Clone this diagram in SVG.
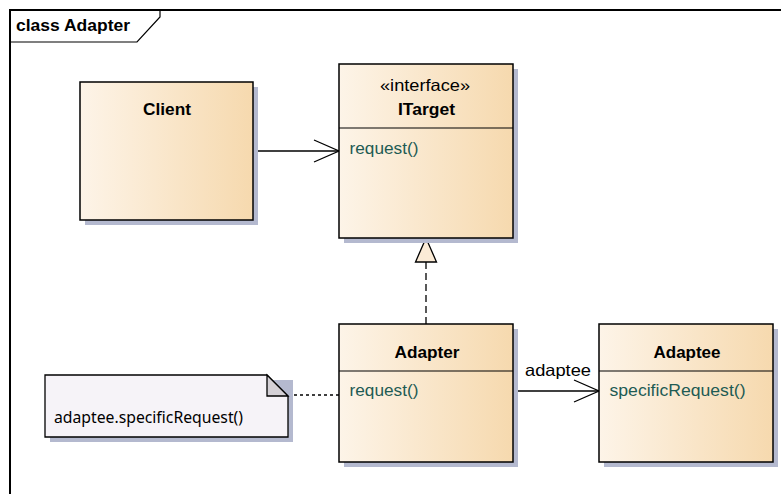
<svg xmlns="http://www.w3.org/2000/svg" width="781" height="494" viewBox="0 0 781 494">
  <defs>
    <linearGradient id="classFill" x1="0" y1="0" x2="1" y2="0">
      <stop offset="0" stop-color="#FDF4E8"/>
      <stop offset="1" stop-color="#F6D9AE"/>
    </linearGradient>
    <marker id="openArrow" markerWidth="28" markerHeight="26" refX="26" refY="12" orient="auto" markerUnits="userSpaceOnUse">
      <path d="M1,1 L26,12 L1,23" fill="none" stroke="#000" stroke-width="1.3"/>
    </marker>
  </defs>
  <style>
    .box { fill: url(#classFill); stroke: #000; stroke-width: 1.5; }
    .shadow { fill: #B4B9CF; }
    .div { stroke: #000; stroke-width: 1.2; }
    .name { font-family: "Liberation Sans", Arial, sans-serif; font-size: 16.5px; font-weight: bold; fill: #000; }
    .stereo { font-family: "Liberation Sans", Arial, sans-serif; font-size: 16.5px; fill: #000; }
    .op { font-family: "Liberation Sans", Arial, sans-serif; font-size: 16.5px; fill: #1E5B54; }
    .lbl { font-family: "Liberation Sans", Arial, sans-serif; font-size: 16.5px; fill: #000; }
    .conn { fill: none; stroke: #000; stroke-width: 1.3; }
  </style>

  <rect width="781" height="494" fill="#fff"/>

  <!-- diagram frame with title tab -->
  <g id="frame">
    <path d="M10,494 L10,10 L781,10" fill="none" stroke="#000" stroke-width="2"/>
    <path d="M10,42 L137,42 L160,17 L160,10" fill="none" stroke="#000" stroke-width="1.2"/>
    <text x="16" y="31" font-family="Liberation Sans, Arial, sans-serif" font-size="16.5px" font-weight="bold" textLength="114" lengthAdjust="spacingAndGlyphs">class Adapter</text>
  </g>

  <!-- connectors -->
  <g id="connectors">
    <line class="conn" x1="253" y1="151" x2="339" y2="151" marker-end="url(#openArrow)"/>
    <line class="conn" x1="426" y1="324" x2="426" y2="262" stroke-dasharray="7,4"/>
    <path d="M426,238 L415.5,262 L436.5,262 Z" fill="#FBEBD6" stroke="#000" stroke-width="1.3"/>
    <line class="conn" x1="513" y1="391" x2="599" y2="391" marker-end="url(#openArrow)"/>
    <text class="lbl" x="525" y="376" textLength="66" lengthAdjust="spacingAndGlyphs">adaptee</text>
    <line class="conn" x1="288" y1="395" x2="339" y2="395" stroke-dasharray="3,3"/>
  </g>

  <!-- Client -->
  <g id="client">
    <rect class="shadow" x="85" y="87" width="173" height="138"/>
    <rect class="box" x="80" y="82" width="173" height="138"/>
    <text class="name" x="143" y="115" textLength="48" lengthAdjust="spacingAndGlyphs">Client</text>
  </g>

  <!-- ITarget interface -->
  <g id="itarget">
    <rect class="shadow" x="344" y="69" width="174" height="174"/>
    <rect class="box" x="339" y="64" width="174" height="174"/>
    <text class="stereo" x="380" y="91" textLength="90" lengthAdjust="spacingAndGlyphs">«interface»</text>
    <text class="name" x="398" y="115" textLength="57" lengthAdjust="spacingAndGlyphs">ITarget</text>
    <line class="div" x1="339" y1="128" x2="513" y2="128"/>
    <text class="op" x="349.5" y="154" textLength="69" lengthAdjust="spacingAndGlyphs">request()</text>
  </g>

  <!-- Adapter -->
  <g id="adapter">
    <rect class="shadow" x="344" y="329" width="174" height="138"/>
    <rect class="box" x="339" y="324" width="174" height="138"/>
    <text class="name" x="394.5" y="358" textLength="65" lengthAdjust="spacingAndGlyphs">Adapter</text>
    <line class="div" x1="339" y1="371" x2="513" y2="371"/>
    <text class="op" x="349.5" y="396" textLength="69" lengthAdjust="spacingAndGlyphs">request()</text>
  </g>

  <!-- Adaptee -->
  <g id="adaptee">
    <rect class="shadow" x="604" y="329" width="174" height="138"/>
    <rect class="box" x="599" y="324" width="174" height="138"/>
    <text class="name" x="653.5" y="358" textLength="67" lengthAdjust="spacingAndGlyphs">Adaptee</text>
    <line class="div" x1="599" y1="371" x2="773" y2="371"/>
    <text class="op" x="609.5" y="396" textLength="136" lengthAdjust="spacingAndGlyphs">specificRequest()</text>
  </g>

  <!-- note attached to Adapter -->
  <g id="note">
    <path d="M50,380 L293,380 L293,442 L50,442 Z" fill="#B4B9CF"/>
    <path d="M45,375 L267,375 L288,396 L288,437 L45,437 Z" fill="#F6F3F8" stroke="#000" stroke-width="1.3"/>
    <path d="M267,375 L267,396 L288,396 Z" fill="#D4D0D6" stroke="#000" stroke-width="1.3"/>
    <text x="54" y="423" font-family="Noto Sans, Open Sans, sans-serif" font-size="15.5px" fill="#000" textLength="189" lengthAdjust="spacingAndGlyphs">adaptee.specificRequest()</text>
  </g>
</svg>
